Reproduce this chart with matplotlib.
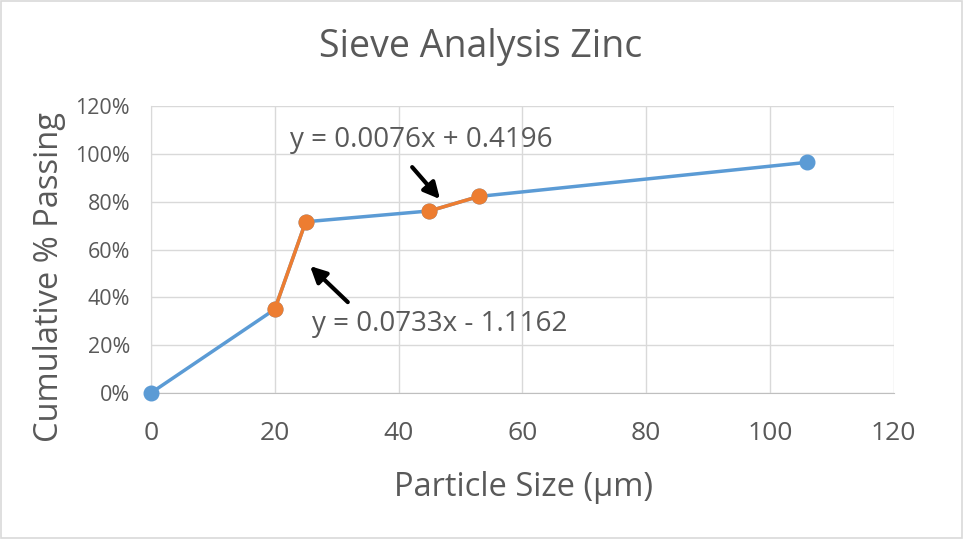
import matplotlib
matplotlib.use('Agg')
import matplotlib.pyplot as plt
from matplotlib.ticker import PercentFormatter
from matplotlib.patches import Rectangle

# Datos
size_um = [0, 20, 25, 45, 53, 106]
passing = [0.0, 0.35, 0.7163, 0.7616, 0.8224, 0.965]

fit1_x = [20, 25]
fit1_y = [0.35, 0.7163]
fit2_x = [45, 53]
fit2_y = [0.7616, 0.8224]

eq1 = "y = 0.0076x + 0.4196"
eq2 = "y = 0.0733x - 1.1162"

blue = '#5B9BD5'
orange = '#ED7D31'
grey_txt = '#595959'

plt.rcParams['font.family'] = ['Open Sans', 'DejaVu Sans']

fig = plt.figure(figsize=(9.64, 5.39), dpi=100)
ax = fig.add_axes([0.1566, 0.271, 0.7705, 0.532])

ax.plot(size_um, passing, color=blue, lw=2.5, marker='o', ms=10.5, zorder=3, clip_on=False)
ax.plot(fit1_x, fit1_y, color=orange, lw=2.5, marker='o', ms=10.5, zorder=4)
ax.plot(fit2_x, fit2_y, color=orange, lw=2.5, marker='o', ms=10.5, zorder=4)

ax.set_xlim(0, 120)
ax.set_ylim(0, 1.2)
ax.set_xticks(range(0, 121, 20))
ax.set_yticks([i / 5 for i in range(7)])
ax.yaxis.set_major_formatter(PercentFormatter(1.0, decimals=0))
ax.grid(True, color='#D9D9D9', lw=1)
ax.set_axisbelow(True)
for s in ['top', 'right']:
    ax.spines[s].set_visible(False)
ax.spines['left'].set_color('#D9D9D9')
ax.spines['bottom'].set_color('#BFBFBF')
ax.tick_params(length=0, colors=grey_txt)
ax.tick_params(axis='y', labelsize=15.5, pad=15)
ax.tick_params(axis='x', labelsize=19, pad=20)

# titulo y etiquetas en posicion fija (pixeles del original)
fig.text(481 / 964, 1 - 47 / 539, 'Sieve Analysis Zinc', fontsize=27,
         color=grey_txt, ha='center', va='center')
fig.text(523 / 964, 1 - 487 / 539, 'Particle Size (µm)', fontsize=23.5,
         color=grey_txt, ha='center', va='center')
fig.text(50 / 964, 1 - 277 / 539, 'Cumulative % Passing', fontsize=23.5,
         color=grey_txt, ha='center', va='center', rotation=90)

# ecuaciones y flechas
ax.text(22.4, 1.058, eq1, fontsize=20, color=grey_txt, va='center')
ax.text(26.0, 0.288, eq2, fontsize=20, color=grey_txt, va='center')
ax.annotate('', xy=(46.7, 0.811), xytext=(42.2, 0.945),
            arrowprops=dict(arrowstyle='-|>', color='black', lw=3, mutation_scale=24,
                            shrinkA=0, shrinkB=0))
ax.annotate('', xy=(25.7, 0.531), xytext=(31.8, 0.380),
            arrowprops=dict(arrowstyle='-|>', color='black', lw=3, mutation_scale=24,
                            shrinkA=0, shrinkB=0))

fig.patches.append(Rectangle((0.001, 0.001), 0.997, 0.997, transform=fig.transFigure,
                             fill=False, edgecolor='#D9D9D9', lw=1.2))

fig.savefig('out.png', dpi=100)
